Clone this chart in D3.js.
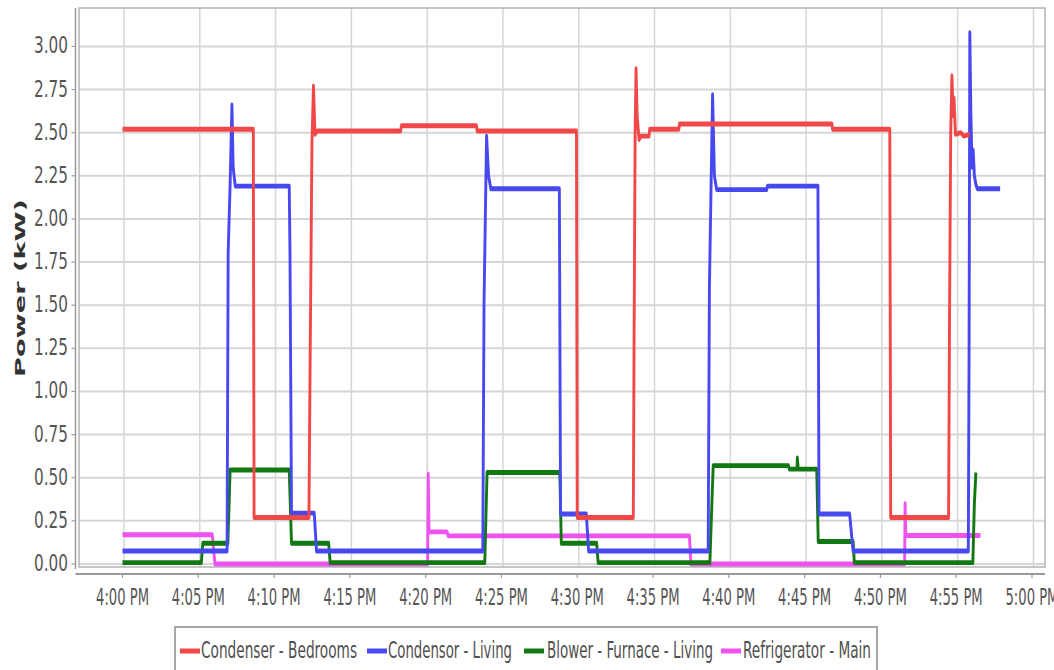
<!DOCTYPE html>
<html>
<head>
<meta charset="utf-8">
<script src="https://cdn.jsdelivr.net/npm/d3@7"></script>
<style>
  html, body { margin: 0; padding: 0; background: #ffffff; }
  svg { display: block; }
</style>
</head>
<body>
<svg id="chart" width="1054" height="670"></svg>
<script>
// ---------- DATA (minutes after 4:00 PM, kW) ----------
const seriesNames = ["Condenser - Bedrooms", "Condensor - Living", "Blower - Furnace - Living", "Refrigerator - Main"];
const seriesColors = ["#f04848", "#4848f0", "#127812", "#f052f0"];

const condenserBedrooms = [
  [0, 2.52], [8.63, 2.52], [8.68, 0.27], [12.3, 0.27], [12.38, 1.2], [12.5, 2.45], [12.6, 2.77],
  [12.7, 2.49], [12.85, 2.51], [18.35, 2.51], [18.4, 2.54], [23.35, 2.54], [23.4, 2.51],
  [29.95, 2.51], [30.0, 0.27], [33.7, 0.27], [33.75, 1.3], [33.82, 2.5], [33.88, 2.87],
  [33.95, 2.6], [34.08, 2.46], [34.2, 2.48], [34.74, 2.48], [34.78, 2.52], [36.7, 2.52],
  [36.75, 2.55], [46.8, 2.55], [46.85, 2.52], [50.62, 2.52], [50.68, 0.27], [54.5, 0.27],
  [54.56, 1.4], [54.64, 2.5], [54.72, 2.83], [54.8, 2.6], [54.86, 2.7], [54.95, 2.49],
  [55.3, 2.5], [55.5, 2.48], [55.9, 2.49]
];
const condensorLiving = [
  [0, 0.075], [6.9, 0.075], [6.97, 1.8], [7.1, 2.2], [7.22, 2.66], [7.3, 2.3], [7.44, 2.19],
  [11.0, 2.19], [11.05, 1.8], [11.15, 0.295], [12.65, 0.295], [12.8, 0.075], [23.77, 0.075],
  [23.85, 1.5], [23.97, 2.2], [24.02, 2.48], [24.15, 2.25], [24.3, 2.175], [28.82, 2.175],
  [28.9, 0.29], [30.6, 0.29], [30.75, 0.075], [38.64, 0.075], [38.72, 1.6], [38.85, 2.3],
  [38.93, 2.72], [39.05, 2.25], [39.2, 2.17], [42.5, 2.17], [42.55, 2.19], [45.88, 2.19],
  [45.95, 0.29], [47.97, 0.29], [48.2, 0.075], [55.8, 0.075], [55.85, 1.2], [55.9, 3.08],
  [55.97, 2.6], [56.05, 2.3], [56.12, 2.4], [56.2, 2.25], [56.3, 2.2], [56.4, 2.175], [57.9, 2.175]
];
const blowerFurnaceLiving = [
  [0, 0.008], [5.2, 0.008], [5.3, 0.12], [6.95, 0.12], [7.1, 0.545], [11.0, 0.545], [11.15, 0.12],
  [13.6, 0.12], [13.7, 0.008], [23.9, 0.008], [24.05, 0.53], [28.85, 0.53], [28.95, 0.12],
  [31.28, 0.12], [31.38, 0.008], [38.75, 0.008], [38.97, 0.57], [43.93, 0.57], [44.0, 0.55],
  [44.5, 0.55], [44.52, 0.615], [44.58, 0.55], [45.8, 0.55], [45.9, 0.13], [48.2, 0.13],
  [48.28, 0.008], [56.1, 0.008], [56.2, 0.35], [56.3, 0.53]
];
const refrigeratorMain = [
  [0, 0.17], [5.92, 0.17], [6.1, 0.0], [20.13, 0.0], [20.17, 0.52], [20.22, 0.186], [21.4, 0.186],
  [21.5, 0.163], [37.4, 0.163], [37.5, 0.0], [51.6, 0.0], [51.63, 0.35], [51.68, 0.165], [56.6, 0.165]
];
const allSeries = [condenserBedrooms, condensorLiving, blowerFurnaceLiving, refrigeratorMain];

const yTicks = [0, 0.25, 0.5, 0.75, 1.0, 1.25, 1.5, 1.75, 2.0, 2.25, 2.5, 2.75, 3.0];
const xTickMinutes = [0, 5, 10, 15, 20, 25, 30, 35, 40, 45, 50, 55, 60];
const yTitle = "Power (kW)";

// ---------- LAYOUT ----------
const plot = { left: 79, right: 1045, top: 8, bottom: 567 };
const base = new Date(2020, 0, 1, 16, 0, 0);
const toDate = m => new Date(base.getTime() + m * 60000);

const x = d3.scaleTime()
  .domain([toDate(-2.87), toDate(60.86)])
  .range([plot.left, plot.right]);
const y = d3.scaleLinear()
  .domain([-0.0174, 3.2226])
  .range([plot.bottom, plot.top]);

const svg = d3.select("#chart");

// condensed, vertically stretched text helper (baseline at py)
function sText(parent, str, px, py, o) {
  const g = parent.append("g").attr("transform", `translate(${px},${py}) scale(1,${o.sy || 1})`);
  const t = g.append("text")
    .attr("x", 0).attr("y", 0)
    .attr("font-family", "'DejaVu Sans Condensed', 'DejaVu Sans', sans-serif")
    .attr("font-size", o.fs)
    .attr("fill", o.fill || "#555")
    .attr("text-anchor", o.anchor || "start")
    .text(str);
  if (o.len) t.attr("textLength", o.len).attr("lengthAdjust", "spacingAndGlyphs");
  return t;
}

// ---------- GRID ----------
const grid = svg.append("g");
grid.selectAll("line.h").data(yTicks).enter().append("line")
  .attr("x1", plot.left).attr("x2", plot.right)
  .attr("y1", d => y(d)).attr("y2", d => y(d))
  .attr("stroke", "#d6d6d6").attr("stroke-width", 2);
grid.selectAll("line.v").data(xTickMinutes).enter().append("line")
  .attr("x1", d => x(toDate(d)) + 1.5).attr("x2", d => x(toDate(d)) + 1.5)
  .attr("y1", plot.top).attr("y2", plot.bottom)
  .attr("stroke", "#d6d6d6").attr("stroke-width", 1.5);

// plot border
svg.append("rect")
  .attr("x", plot.left).attr("y", plot.top)
  .attr("width", plot.right - plot.left).attr("height", plot.bottom - plot.top)
  .attr("fill", "none").attr("stroke", "#b4b4b4").attr("stroke-width", 1.5);

// ---------- AXES ----------
const yAxisX = 75.5;
svg.append("line").attr("x1", yAxisX).attr("x2", yAxisX)
  .attr("y1", plot.top).attr("y2", plot.bottom + 2)
  .attr("stroke", "#9a9a9a").attr("stroke-width", 1.5);
svg.selectAll("line.yt").data(yTicks).enter().append("line")
  .attr("x1", yAxisX - 4).attr("x2", yAxisX)
  .attr("y1", d => y(d)).attr("y2", d => y(d))
  .attr("stroke", "#9a9a9a").attr("stroke-width", 1.2);
yTicks.forEach(v => {
  sText(svg, v.toFixed(2), 68, y(v) + 7, { fs: 17.5, sy: 1.3, anchor: "end", len: 34 });
});

const xAxisY = 574;
svg.append("line").attr("x1", yAxisX).attr("x2", plot.right)
  .attr("y1", xAxisY).attr("y2", xAxisY)
  .attr("stroke", "#9a9a9a").attr("stroke-width", 2);
svg.selectAll("line.xt").data(xTickMinutes).enter().append("line")
  .attr("x1", d => x(toDate(d))).attr("x2", d => x(toDate(d)))
  .attr("y1", xAxisY).attr("y2", xAxisY + 4)
  .attr("stroke", "#9a9a9a").attr("stroke-width", 1.2);
const fmt = d3.timeFormat("%-I:%M %p");
xTickMinutes.forEach(m => {
  sText(svg, fmt(toDate(m)), x(toDate(m)), 605, { fs: 17, sy: 1.3, anchor: "middle", len: 53 });
});

// y axis title
svg.append("text")
  .attr("transform", `translate(25, 288) rotate(-90)`)
  .attr("text-anchor", "middle")
  .attr("font-family", "'DejaVu Sans', sans-serif")
  .attr("font-weight", "bold")
  .attr("font-size", 14)
  .attr("fill", "#333")
  .attr("textLength", 178).attr("lengthAdjust", "spacingAndGlyphs")
  .text(yTitle);

// ---------- LINES (drawn in a vertically stretched frame so flat runs look thicker) ----------
const k = 1.7;
const yl = d3.scaleLinear().domain(y.domain()).range([plot.bottom / k, plot.top / k]);
const line = d3.line().x(d => x(toDate(d[0]))).y(d => yl(d[1]));
const lineG = svg.append("g").attr("transform", `scale(1,${k})`);
[3, 2, 1, 0].forEach(i => {
  lineG.append("path")
    .datum(allSeries[i])
    .attr("d", line)
    .attr("fill", "none")
    .attr("stroke", seriesColors[i])
    .attr("stroke-width", 2.9)
    .attr("stroke-linejoin", "round")
    .attr("stroke-linecap", "butt");
});

// ---------- LEGEND ----------
const leg = svg.append("g");
leg.append("rect").attr("x", 175).attr("y", 627).attr("width", 702).attr("height", 60)
  .attr("fill", "#fff").attr("stroke", "#8a8a8a").attr("stroke-width", 1.5);
const legendItems = [
  { sx: 180, tx: 201, len: 156 },
  { sx: 367, tx: 388, len: 124 },
  { sx: 524, tx: 547, len: 166 },
  { sx: 721, tx: 743, len: 128 }
];
legendItems.forEach((it, i) => {
  leg.append("line").attr("x1", it.sx).attr("x2", it.sx + 20)
    .attr("y1", 651).attr("y2", 651)
    .attr("stroke", seriesColors[i]).attr("stroke-width", 5);
  sText(leg, seriesNames[i], it.tx, 658, { fs: 18, sy: 1.3, len: it.len, fill: "#505050" });
});
</script>
</body>
</html>
